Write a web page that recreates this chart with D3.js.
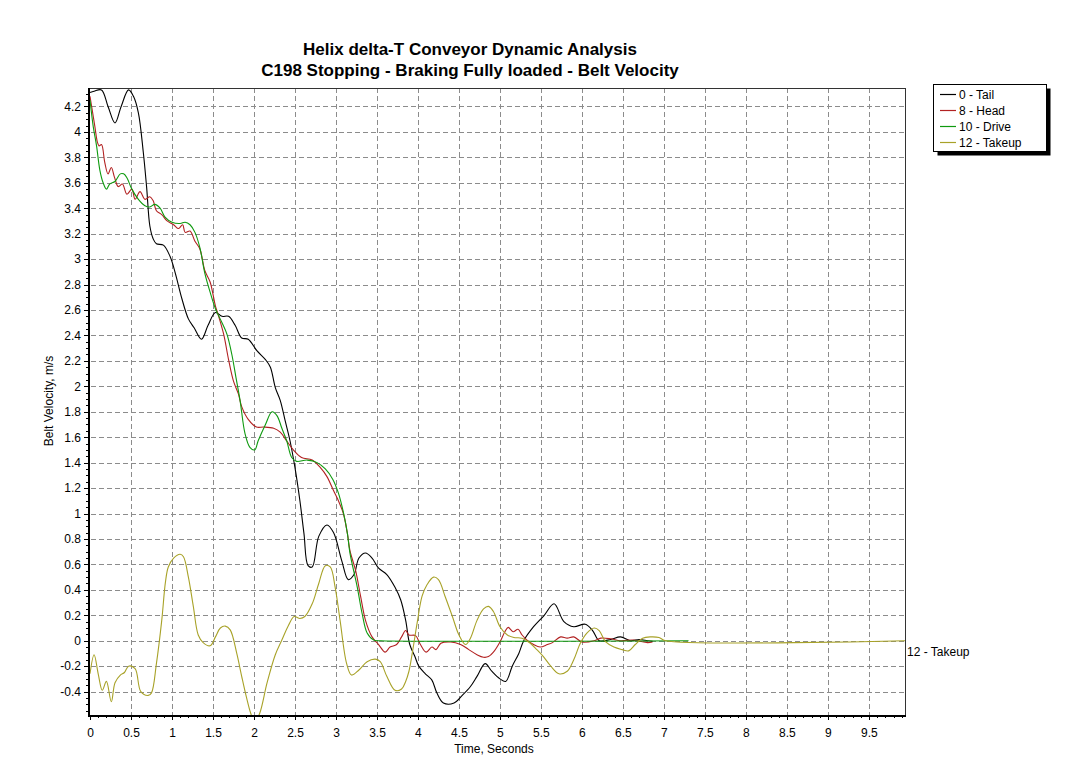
<!DOCTYPE html>
<html>
<head>
<meta charset="utf-8">
<script src="https://cdn.jsdelivr.net/npm/d3@7"></script>
<style>
  html, body { margin: 0; padding: 0; background: #fff; }
  svg { display: block; font-family: "Liberation Sans", Arial, sans-serif; }
</style>
</head>
<body>
<svg id="chart" width="1079" height="779"></svg>
<script>
// ---- chart text ----
const titleLines = [
  "Helix delta-T Conveyor Dynamic Analysis",
  "C198 Stopping - Braking Fully loaded - Belt Velocity"
];
const xAxisTitle = "Time, Seconds";
const yAxisTitle = "Belt Velocity, m/s";

// ---- axis ticks ----
const xTickValues = [0, 0.5, 1, 1.5, 2, 2.5, 3, 3.5, 4, 4.5, 5, 5.5, 6, 6.5, 7, 7.5, 8, 8.5, 9, 9.5];
const yTickValues = [-0.4, -0.2, 0, 0.2, 0.4, 0.6, 0.8, 1, 1.2, 1.4, 1.6, 1.8, 2, 2.2, 2.4, 2.6, 2.8, 3, 3.2, 3.4, 3.6, 3.8, 4, 4.2];
const xDomain = [0, 9.94];
const yDomain = [-0.584, 4.345];

// ---- series ----
const seriesNames = ["0 - Tail", "8 - Head", "10 - Drive", "12 - Takeup"];

const tailTime = [0, 0.05, 0.14, 0.22, 0.305, 0.38, 0.47, 0.53, 0.59, 0.65, 0.69, 0.73, 0.77, 0.81, 0.895, 0.977, 1.04, 1.12, 1.2, 1.27, 1.36, 1.44, 1.53, 1.61, 1.69, 1.77, 1.85, 1.93, 2.035, 2.14, 2.2, 2.26, 2.32, 2.38, 2.44, 2.5, 2.56, 2.61, 2.66, 2.71, 2.79, 2.89, 2.97, 3.07, 3.15, 3.22, 3.28, 3.36, 3.44, 3.52, 3.62, 3.72, 3.79, 3.85, 3.9, 3.96, 4.01, 4.09, 4.17, 4.23, 4.31, 4.44, 4.54, 4.64, 4.72, 4.82, 4.9, 5.0, 5.07, 5.15, 5.23, 5.29, 5.41, 5.54, 5.66, 5.78, 5.9, 6.04, 6.13, 6.21, 6.35, 6.47, 6.59, 6.7, 6.8, 6.86];
const tailVel = [4.31, 4.32, 4.33, 4.2, 4.07, 4.2, 4.33, 4.28, 4.15, 3.84, 3.57, 3.26, 3.16, 3.12, 3.11, 3.02, 2.89, 2.69, 2.53, 2.46, 2.37, 2.48, 2.58, 2.55, 2.55, 2.48, 2.38, 2.37, 2.28, 2.21, 2.15, 1.99, 1.89, 1.73, 1.57, 1.36, 1.10, 0.84, 0.59, 0.58, 0.82, 0.91, 0.85, 0.63, 0.48, 0.52, 0.65, 0.69, 0.65, 0.57, 0.52, 0.42, 0.32, 0.16, -0.03, -0.12, -0.20, -0.26, -0.31, -0.41, -0.49, -0.49, -0.43, -0.36, -0.28, -0.18, -0.24, -0.30, -0.32, -0.20, -0.10, 0.0, 0.11, 0.20, 0.29, 0.15, 0.11, 0.13, 0.08, 0.0, 0.01, 0.03, 0.0, 0.01, 0.0, -0.005];

const headTime = [0, 0.02, 0.06, 0.09, 0.11, 0.14, 0.18, 0.22, 0.26, 0.30, 0.345, 0.395, 0.45, 0.51, 0.55, 0.61, 0.67, 0.73, 0.77, 0.81, 0.875, 0.94, 1.02, 1.08, 1.13, 1.16, 1.22, 1.28, 1.34, 1.40, 1.465, 1.53, 1.56, 1.63, 1.69, 1.75, 1.81, 1.85, 1.93, 2.03, 2.12, 2.24, 2.32, 2.40, 2.48, 2.58, 2.71, 2.81, 2.89, 2.97, 3.03, 3.09, 3.14, 3.17, 3.24, 3.30, 3.36, 3.44, 3.52, 3.60, 3.66, 3.74, 3.80, 3.85, 3.89, 3.97, 4.03, 4.10, 4.17, 4.22, 4.28, 4.40, 4.52, 4.62, 4.72, 4.80, 4.86, 4.92, 5.0, 5.06, 5.10, 5.16, 5.22, 5.27, 5.33, 5.41, 5.49, 5.58, 5.64, 5.74, 5.82, 5.90, 6.0, 6.15, 6.23, 6.35, 6.47, 6.63, 6.80, 6.86];
const headVel = [4.28, 4.2, 4.04, 3.92, 3.89, 3.90, 3.76, 3.67, 3.72, 3.64, 3.57, 3.59, 3.51, 3.55, 3.47, 3.53, 3.47, 3.49, 3.46, 3.38, 3.35, 3.30, 3.27, 3.24, 3.27, 3.21, 3.22, 3.14, 3.08, 2.91, 2.82, 2.63, 2.57, 2.41, 2.21, 2.04, 1.94, 1.84, 1.74, 1.68, 1.68, 1.67, 1.64, 1.57, 1.50, 1.44, 1.42, 1.36, 1.29, 1.18, 1.10, 1.0, 0.84, 0.71, 0.55, 0.35, 0.16, 0.03, -0.03, -0.09, -0.05, -0.03, 0.03, 0.08, 0.045, 0.04, -0.03, -0.09, -0.05, -0.07, -0.02, -0.01, -0.03, -0.07, -0.11, -0.13, -0.125, -0.09, -0.01, 0.07, 0.105, 0.07, 0.09, 0.045, 0.005, -0.03, -0.05, -0.03, -0.015, 0.03, 0.02, 0.03, -0.01, 0.0, 0.02, 0.015, 0.0, 0.005, -0.015, -0.01];

const driveTime = [0, 0.04, 0.08, 0.12, 0.16, 0.20, 0.24, 0.305, 0.37, 0.41, 0.45, 0.51, 0.59, 0.67, 0.73, 0.79, 0.855, 0.915, 1.0, 1.10, 1.16, 1.22, 1.28, 1.34, 1.40, 1.465, 1.53, 1.61, 1.67, 1.73, 1.78, 1.83, 1.89, 1.95, 2.01, 2.05, 2.14, 2.22, 2.28, 2.34, 2.40, 2.46, 2.52, 2.65, 2.77, 2.87, 2.96, 3.03, 3.09, 3.14, 3.17, 3.26, 3.32, 3.38, 3.46, 3.55, 7.3];
const driveVel = [4.25, 4.04, 3.89, 3.70, 3.60, 3.55, 3.59, 3.61, 3.67, 3.67, 3.64, 3.55, 3.47, 3.42, 3.41, 3.43, 3.40, 3.33, 3.29, 3.28, 3.29, 3.27, 3.21, 3.09, 2.89, 2.74, 2.61, 2.50, 2.41, 2.25, 2.07, 1.89, 1.63, 1.52, 1.50, 1.57, 1.70, 1.80, 1.77, 1.67, 1.57, 1.44, 1.41, 1.42, 1.40, 1.35, 1.27, 1.16, 1.01, 0.84, 0.69, 0.42, 0.21, 0.06, 0.005, 0.0, 0.0];

const takeupTime = [0, 0.05, 0.10, 0.15, 0.20, 0.26, 0.305, 0.37, 0.42, 0.47, 0.55, 0.62, 0.71, 0.75, 0.81, 0.875, 0.92, 0.955, 1.02, 1.10, 1.14, 1.20, 1.26, 1.32, 1.38, 1.465, 1.53, 1.59, 1.65, 1.71, 1.79, 1.85, 1.91, 1.96, 2.01, 2.07, 2.16, 2.26, 2.34, 2.42, 2.49, 2.56, 2.62, 2.71, 2.79, 2.87, 2.93, 2.99, 3.05, 3.13, 3.19, 3.28, 3.38, 3.48, 3.54, 3.62, 3.72, 3.80, 3.85, 3.89, 3.93, 3.99, 4.05, 4.11, 4.19, 4.25, 4.33, 4.42, 4.50, 4.58, 4.64, 4.72, 4.80, 4.86, 4.92, 5.0, 5.09, 5.17, 5.27, 5.37, 5.45, 5.53, 5.62, 5.72, 5.82, 5.90, 5.98, 6.06, 6.15, 6.21, 6.29, 6.39, 6.49, 6.57, 6.65, 6.74, 6.84, 6.94, 7.02, 9.94];
const takeupVel = [-0.26, -0.11, -0.26, -0.39, -0.32, -0.48, -0.33, -0.27, -0.25, -0.20, -0.22, -0.40, -0.43, -0.41, -0.18, 0.16, 0.46, 0.58, 0.65, 0.68, 0.66, 0.50, 0.27, 0.045, -0.015, -0.04, 0.03, 0.10, 0.115, 0.085, -0.10, -0.28, -0.45, -0.57, -0.64, -0.57, -0.33, -0.11, 0.005, 0.12, 0.19, 0.175, 0.19, 0.29, 0.45, 0.59, 0.58, 0.42, 0.16, -0.18, -0.27, -0.23, -0.165, -0.145, -0.165, -0.28, -0.39, -0.38, -0.32, -0.24, -0.10, 0.14, 0.35, 0.44, 0.50, 0.48, 0.35, 0.19, 0.045, -0.03, 0.02, 0.16, 0.25, 0.27, 0.23, 0.11, 0.045, 0.025, 0.02, -0.02, -0.07, -0.125, -0.20, -0.26, -0.24, -0.15, -0.02, 0.06, 0.10, 0.08, -0.01, -0.05, -0.07, -0.08, -0.03, 0.02, 0.03, 0.025, 0.0, 0.0];

// ---- drawing ----
const seriesColors = ["#000000", "#b22222", "#0f9a0f", "#a8a228"];
const series = [
  { name: seriesNames[0], t: tailTime, v: tailVel },
  { name: seriesNames[1], t: headTime, v: headVel },
  { name: seriesNames[2], t: driveTime, v: driveVel },
  { name: seriesNames[3], t: takeupTime, v: takeupVel }
];

const svg = d3.select("#chart");
const plot = { left: 89, right: 905, top: 88, bottom: 715 };

const x = d3.scaleLinear().domain(xDomain).range([plot.left + 1, plot.right]);
const y = d3.scaleLinear().domain(yDomain).range([plot.bottom, plot.top]);
const fmt = v => String(+v.toFixed(2));
const crisp = p => Math.round(p) + 0.5;

// Title
svg.append("g").selectAll("text").data(titleLines).join("text")
  .attr("x", 470).attr("y", (d, i) => 55 + i * 21)
  .attr("text-anchor", "middle")
  .attr("font-size", 17).attr("font-weight", "bold")
  .text(d => d);

// Dashed grid
const grid = svg.append("g").attr("stroke", "#8c8c8c").attr("stroke-width", 1)
  .attr("stroke-dasharray", "5,3").attr("shape-rendering", "crispEdges");
grid.selectAll("line.v").data(xTickValues.filter(d => d > 0)).join("line")
  .attr("class", "v")
  .attr("x1", d => crisp(x(d))).attr("x2", d => crisp(x(d)))
  .attr("y1", plot.top).attr("y2", plot.bottom);
grid.selectAll("line.h").data(yTickValues).join("line")
  .attr("class", "h")
  .attr("x1", plot.left + 2).attr("x2", plot.right)
  .attr("y1", d => crisp(y(d))).attr("y2", d => crisp(y(d)));

// Frame
svg.append("rect")
  .attr("x", plot.left + 0.5).attr("y", plot.top + 0.5)
  .attr("width", plot.right - plot.left).attr("height", plot.bottom - plot.top)
  .attr("fill", "none").attr("stroke", "#333").attr("stroke-width", 1);

// Curves
svg.append("clipPath").attr("id", "plotClip")
  .append("rect").attr("x", plot.left).attr("y", plot.top)
  .attr("width", plot.right - plot.left).attr("height", plot.bottom - plot.top);

const line = d3.line()
  .x(d => x(d[0])).y(d => y(d[1]))
  .curve(d3.curveCatmullRom.alpha(0.5));

svg.append("g").attr("clip-path", "url(#plotClip)")
  .selectAll("path").data(series).join("path")
  .attr("d", s => line(s.t.map((t, i) => [t, s.v[i]])))
  .attr("fill", "none")
  .attr("stroke", (s, i) => seriesColors[i])
  .attr("stroke-width", 1.1);

// Axes: major ticks with labels
const yAxis = d3.axisLeft(y).tickValues(yTickValues).tickSize(4).tickPadding(3).tickFormat(fmt);
const yg = svg.append("g").attr("transform", `translate(${plot.left - 1},0)`).call(yAxis);
const xAxis = d3.axisBottom(x).tickValues(xTickValues).tickSize(4).tickPadding(8).tickFormat(fmt);
const xg = svg.append("g").attr("transform", `translate(0,${plot.bottom + 1})`).call(xAxis);

// Minor ticks
const yMinor = d3.range(-0.55, 4.35, 0.05).map(v => +v.toFixed(2));
const xMinor = d3.range(0.1, 9.95, 0.1).map(v => +v.toFixed(2));
svg.append("g").attr("transform", `translate(${plot.left - 1},0)`)
  .call(d3.axisLeft(y).tickValues(yMinor).tickSize(2).tickFormat(""));
svg.append("g").attr("transform", `translate(0,${plot.bottom + 1})`)
  .call(d3.axisBottom(x).tickValues(xMinor).tickSize(2).tickFormat(""));

svg.selectAll(".domain").remove();
svg.selectAll(".tick line").attr("stroke", "#000").attr("shape-rendering", "crispEdges");
svg.selectAll(".tick text").attr("font-size", 12).attr("fill", "#000")
  .attr("font-family", "'Liberation Sans', Arial, sans-serif");

// Heavy left and bottom axis lines
svg.append("line").attr("x1", plot.left).attr("x2", plot.left)
  .attr("y1", plot.top).attr("y2", plot.bottom + 2)
  .attr("stroke", "#000").attr("stroke-width", 2);
svg.append("line").attr("x1", plot.left - 1).attr("x2", plot.right + 1)
  .attr("y1", plot.bottom + 1).attr("y2", plot.bottom + 1)
  .attr("stroke", "#000").attr("stroke-width", 2);

// Axis titles
svg.append("text").attr("x", 494).attr("y", 753)
  .attr("text-anchor", "middle").attr("font-size", 12).text(xAxisTitle);
svg.append("text").attr("transform", "translate(53,401) rotate(-90)")
  .attr("text-anchor", "middle").attr("font-size", 12).text(yAxisTitle);

// End label for the last series
const lastS = series[3];
svg.append("text").attr("x", plot.right + 2)
  .attr("y", y(lastS.v[lastS.v.length - 1]) + 15)
  .attr("font-size", 12).text(lastS.name);

// Legend with drop shadow
const lg = svg.append("g").attr("transform", "translate(933,84)");
lg.append("rect").attr("x", 4.5).attr("y", 4.5).attr("width", 113).attr("height", 67)
  .attr("fill", "#000");
lg.append("rect").attr("x", 0.5).attr("y", 0.5).attr("width", 113).attr("height", 67)
  .attr("fill", "#fff").attr("stroke", "#000");
const items = lg.selectAll("g.item").data(series).join("g")
  .attr("class", "item")
  .attr("transform", (d, i) => `translate(0,${10 + i * 16})`);
items.append("line").attr("x1", 7).attr("x2", 23).attr("y1", 0.5).attr("y2", 0.5)
  .attr("stroke", (d, i) => seriesColors[i]).attr("stroke-width", 1.2);
items.append("text").attr("x", 26).attr("y", 4.5).attr("font-size", 12).text(d => d.name);
</script>
</body>
</html>
